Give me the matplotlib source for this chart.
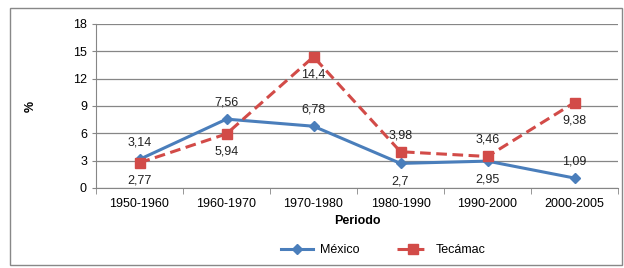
import matplotlib
matplotlib.use("Agg")
import matplotlib.pyplot as plt
from matplotlib.patches import Rectangle

plt.rcParams['font.family'] = ['Liberation Sans', 'DejaVu Sans']

periodos = ['1950-1960', '1960-1970', '1970-1980', '1980-1990', '1990-2000', '2000-2005']
mexico = [3.14, 7.56, 6.78, 2.7, 2.95, 1.09]
tecamac = [2.77, 5.94, 14.4, 3.98, 3.46, 9.38]
mexico_pos = ['above', 'above', 'above', 'below', 'below', 'above']
tecamac_pos = ['below', 'below', 'below', 'above', 'above', 'below']

blue = '#4A7EBB'
red = '#D24B48'

fig = plt.figure(figsize=(6.24, 2.68), dpi=100)
ax = fig.add_axes([96 / 624, 1 - 188 / 268, 522 / 624, 164 / 268])

x = list(range(len(periodos)))
ax.plot(x, mexico, color=blue, lw=2.2, marker='D', ms=5.5, label='México', zorder=3)
ax.plot(x, tecamac, color=red, lw=2.2, ls=(0, (3.5, 1.8)), marker='s', ms=7,
        label='Tecámac', zorder=3)

def fmt(v):
    return ('%g' % v).replace('.', ',')

for xi, v, p in zip(x, mexico, mexico_pos):
    off = 12 if p == 'above' else -13
    ax.annotate(fmt(v), (xi, v), xytext=(0, off), textcoords='offset points',
                ha='center', va='center', fontsize=9, color='#222222')
for xi, v, p in zip(x, tecamac, tecamac_pos):
    off = 12 if p == 'above' else -13
    ax.annotate(fmt(v), (xi, v), xytext=(0, off), textcoords='offset points',
                ha='center', va='center', fontsize=9, color='#222222')

ax.set_xlim(-0.5, len(periodos) - 0.5)
ax.set_ylim(0, 18)
ax.set_yticks(range(0, 19, 3))
ax.set_xticks(x)
ax.set_xticklabels(periodos, fontsize=9)
ax.set_xticks([i + 0.5 for i in range(-1, len(periodos))], minor=True)
ax.tick_params(axis='y', labelsize=9, length=3, color='#868686')
ax.tick_params(axis='x', which='major', length=0, pad=7)
ax.tick_params(axis='x', which='minor', length=4, color='#868686')
ax.grid(axis='y', color='#868686', lw=0.9)
ax.set_axisbelow(True)
for s in ['top', 'right']:
    ax.spines[s].set_visible(False)
ax.spines['left'].set_color('#868686')
ax.spines['bottom'].set_color('#868686')

ax.set_xlabel('Periodo', fontsize=9, fontweight='bold', labelpad=4)
ax.set_ylabel('%', fontsize=9, fontweight='bold', labelpad=26)

fig.legend(loc='center', bbox_to_anchor=(383 / 624, 1 - 250 / 268), ncol=2, frameon=False,
           fontsize=9, handlelength=2.6, handletextpad=0.5, columnspacing=3)

fig.patches.append(Rectangle((10 / 624, 3 / 268), 612 / 624, 257 / 268,
                             transform=fig.transFigure, fill=False,
                             edgecolor='#888888', lw=1))

fig.savefig('out.png', dpi=100)
